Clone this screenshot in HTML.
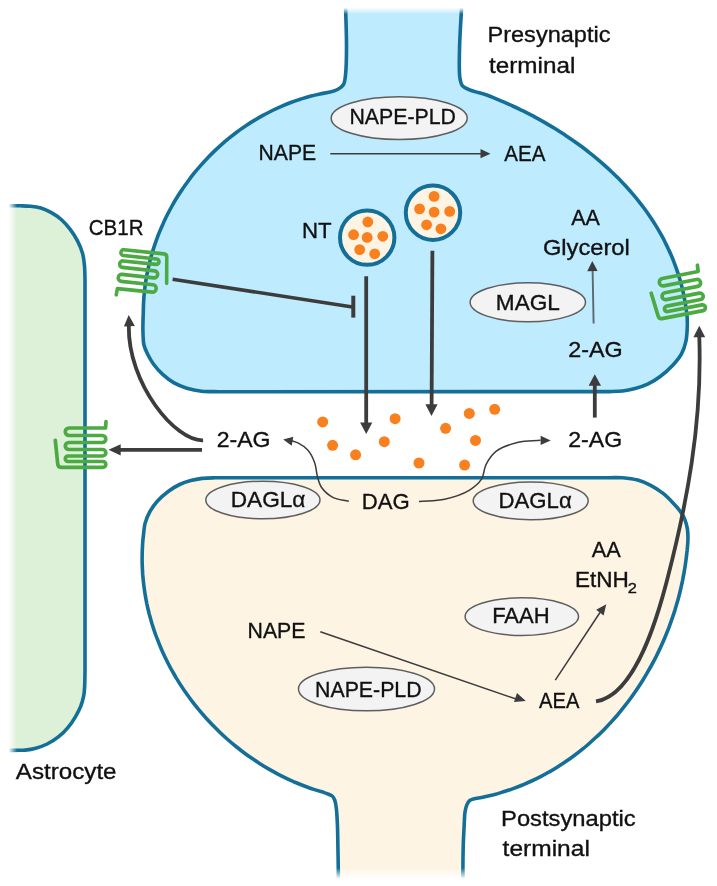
<!DOCTYPE html>
<html><head><meta charset="utf-8"><style>
html,body{margin:0;padding:0;background:#fff;width:717px;height:886px;overflow:hidden}
svg{display:block}
text{font-family:"Liberation Sans", sans-serif}
</style></head><body>
<svg width="717" height="886" viewBox="0 0 717 886">
<defs>
<linearGradient id="fadeTop" x1="0" y1="0" x2="0" y2="1"><stop offset="0" stop-color="#fff" stop-opacity="1"/><stop offset="0.55" stop-color="#fff" stop-opacity="1"/><stop offset="1" stop-color="#fff" stop-opacity="0"/></linearGradient>
<linearGradient id="fadeBot" x1="0" y1="1" x2="0" y2="0"><stop offset="0" stop-color="#fff" stop-opacity="1"/><stop offset="0.4" stop-color="#fff" stop-opacity="1"/><stop offset="1" stop-color="#fff" stop-opacity="0"/></linearGradient>
<linearGradient id="fadeLeft" x1="0" y1="0" x2="1" y2="0"><stop offset="0" stop-color="#fff" stop-opacity="1"/><stop offset="0.5" stop-color="#fff" stop-opacity="1"/><stop offset="0.75" stop-color="#fff" stop-opacity="0.5"/><stop offset="1" stop-color="#fff" stop-opacity="0"/></linearGradient>
</defs>
<rect width="717" height="886" fill="#fff"/>
<path d="M-5 205.8 C3.3 205.8 13.4 205.7 20 205.8 C24.2 205.9 27 205.9 30.5 206.2 C34 206.5 37.5 206.9 40.9 207.9 C44.5 209 48 210.7 51.4 212.6 C55 214.6 58.7 217.2 61.8 220 C64.9 222.8 67.6 226 70.2 229.4 C72.9 232.9 75.4 236.9 77.5 240.9 C79.6 244.9 81.4 249.2 82.6 253.4 C83.7 257.5 84.1 261.7 84.5 266 C84.9 270.5 84.9 274.9 85 280 L85 672 C84.9 677 84.9 681.3 84.7 685.5 C84.5 689.2 84.4 692.5 83.7 695.9 C83 699.4 82 703 80.7 706.4 C79.3 709.9 77.4 713.4 75.4 716.8 C73.3 720.4 70.9 724 68.1 727.3 C65.3 730.7 62.2 733.9 58.7 736.7 C55.2 739.5 51.1 742.1 47.2 744 C43.5 745.8 39.5 747.2 35.7 748.2 C32.2 749.2 28.1 749.8 25.2 750.1 C23.2 750.3 22.4 750.3 20 750.3 C14.8 750.4 3.3 750.3 -5 750.3" fill="#DDF0D8" stroke="#146F98" stroke-width="3.6"/>
<rect x="0" y="195" width="17" height="570" fill="url(#fadeLeft)"/>
<path d="M345.5 4 C345.8 17.7 346.5 32.5 346.5 45 C346.5 55.5 346.4 66.8 345.6 74 C345.1 78.4 345 81.9 343.5 84.5 C342.2 86.7 340.1 88.1 338 89.3 C335.7 90.6 332.8 91.3 330 92 C326.9 92.8 323.3 93.2 320 93.9 C316.6 94.6 313.3 95.4 310.1 96.3 C306.8 97.2 303.6 98.2 300.3 99.2 C297.1 100.2 293.9 101.3 290.8 102.5 C287.7 103.7 284.5 105 281.4 106.3 C278.4 107.6 275.3 109 272.3 110.5 C269.3 112 266.3 113.5 263.4 115.1 C260.4 116.7 257.5 118.4 254.7 120.1 C251.8 121.8 249 123.6 246.2 125.5 C243.4 127.3 240.7 129.3 238 131.2 C235.3 133.2 232.6 135.3 230 137.4 C227.4 139.5 224.8 141.6 222.3 143.8 C219.8 146 217.3 148.3 214.9 150.6 C212.5 152.9 210.1 155.3 207.8 157.7 C205.5 160.1 203.2 162.6 201 165.1 C198.8 167.6 196.6 170.1 194.5 172.7 C192.4 175.3 190.4 178 188.4 180.7 C186.4 183.4 184.4 186.1 182.6 188.9 C180.7 191.6 178.9 194.4 177.1 197.3 C175.3 200.1 173.6 203 172 206 C170.4 208.9 168.8 211.8 167.3 214.8 C165.8 217.8 164.3 220.8 163 223.9 C161.6 226.9 160.3 230 159 233.1 C157.8 236.3 156.6 239.4 155.5 242.6 C154.4 245.7 153.4 248.9 152.4 252.1 C151.4 255.3 150.5 258.6 149.7 261.8 C148.9 265.1 148.2 268.4 147.5 271.7 C146.8 275 146.3 278.3 145.7 281.6 C145.2 285 144.8 288.3 144.4 291.7 C144.1 295 143.8 298.4 143.6 301.8 C143.4 305.2 143.4 308.7 143.3 312 C143.2 315.1 143.1 317.8 143 321 C142.9 324.7 142.8 329 143 333 C143.2 337 143 341.1 143.9 344.8 C144.7 348.3 146.2 351.3 147.8 354.5 C149.4 357.8 151.3 361.1 153.6 364.3 C156.1 367.7 159.1 371.1 162.4 374.1 C165.9 377.3 170 380.5 174.1 382.9 C178.1 385.2 182.3 386.8 186.8 388.2 C191.5 389.6 196.4 390.6 201.5 391.2 C207 391.8 212.7 391.6 218.7 391.7 L610 391.6 C614.7 391.5 618.4 391.5 622.6 391 C626.8 390.5 631 389.6 635.1 388.5 C639.3 387.3 643.6 386 647.7 384.1 C652 382.1 656.2 379.5 660.2 376.5 C664.5 373.3 669.1 369.1 672.8 365.2 C676.2 361.6 679.3 357.9 681.5 353.9 C683.6 350 685 345.6 685.9 341.4 C686.8 337.3 687 332.9 687.2 328.8 C687.4 324.9 687.4 321.2 687.2 317.5 C687 314 686.4 310.7 686 307.3 C685.5 304 684.9 300.7 684.2 297.4 C683.6 294.1 682.9 290.8 682.1 287.6 C681.3 284.4 680.4 281.2 679.5 278.1 C678.5 274.9 677.5 271.8 676.4 268.7 C675.4 265.6 674.2 262.6 673 259.5 C671.8 256.5 670.5 253.5 669.1 250.6 C667.8 247.6 666.4 244.7 664.9 241.8 C663.5 238.9 661.9 236.1 660.3 233.2 C658.7 230.4 657.1 227.6 655.4 224.9 C653.7 222.1 651.9 219.4 650.1 216.7 C648.3 214.1 646.4 211.4 644.5 208.8 C642.6 206.2 640.6 203.6 638.6 201.1 C636.6 198.5 634.5 196 632.4 193.6 C630.3 191.1 628.1 188.6 625.9 186.2 C623.7 183.8 621.4 181.5 619.1 179.1 C616.8 176.8 614.5 174.5 612.1 172.2 C609.7 170 607.3 167.8 604.9 165.6 C602.4 163.4 599.9 161.2 597.4 159.1 C594.9 157 592.3 154.9 589.7 152.9 C587.1 150.8 584.5 148.8 581.9 146.8 C579.2 144.8 576.5 142.9 573.8 141 C571.1 139.1 568.4 137.2 565.6 135.4 C562.8 133.6 560.1 131.8 557.2 130 C554.4 128.3 551.6 126.5 548.7 124.9 C545.9 123.2 543 121.5 540.1 119.9 C537.2 118.3 534.3 116.7 531.4 115.2 C528.5 113.7 525.5 112.2 522.6 110.7 C519.6 109.3 516.7 107.8 513.7 106.5 C510.7 105.1 507.7 103.7 504.7 102.4 C501.8 101.1 498.7 99.8 495.7 98.6 C492.7 97.4 490.2 96.2 486.7 95 C481.8 93.3 473.4 91.5 469 89.6 C466.1 88.4 463.8 87.6 462.3 85.7 C460.7 83.7 460.4 81.4 459.9 77.9 C458.9 71.5 459.3 60.5 459.5 50 C459.7 36.6 461 19.3 461.8 4Z" fill="#BEEBFD" stroke="none"/>
<path d="M345.5 4 C345.8 17.7 346.5 32.5 346.5 45 C346.5 55.5 346.4 66.8 345.6 74 C345.1 78.4 345 81.9 343.5 84.5 C342.2 86.7 340.1 88.1 338 89.3 C335.7 90.6 332.8 91.3 330 92 C326.9 92.8 323.3 93.2 320 93.9 C316.6 94.6 313.3 95.4 310.1 96.3 C306.8 97.2 303.6 98.2 300.3 99.2 C297.1 100.2 293.9 101.3 290.8 102.5 C287.7 103.7 284.5 105 281.4 106.3 C278.4 107.6 275.3 109 272.3 110.5 C269.3 112 266.3 113.5 263.4 115.1 C260.4 116.7 257.5 118.4 254.7 120.1 C251.8 121.8 249 123.6 246.2 125.5 C243.4 127.3 240.7 129.3 238 131.2 C235.3 133.2 232.6 135.3 230 137.4 C227.4 139.5 224.8 141.6 222.3 143.8 C219.8 146 217.3 148.3 214.9 150.6 C212.5 152.9 210.1 155.3 207.8 157.7 C205.5 160.1 203.2 162.6 201 165.1 C198.8 167.6 196.6 170.1 194.5 172.7 C192.4 175.3 190.4 178 188.4 180.7 C186.4 183.4 184.4 186.1 182.6 188.9 C180.7 191.6 178.9 194.4 177.1 197.3 C175.3 200.1 173.6 203 172 206 C170.4 208.9 168.8 211.8 167.3 214.8 C165.8 217.8 164.3 220.8 163 223.9 C161.6 226.9 160.3 230 159 233.1 C157.8 236.3 156.6 239.4 155.5 242.6 C154.4 245.7 153.4 248.9 152.4 252.1 C151.4 255.3 150.5 258.6 149.7 261.8 C148.9 265.1 148.2 268.4 147.5 271.7 C146.8 275 146.3 278.3 145.7 281.6 C145.2 285 144.8 288.3 144.4 291.7 C144.1 295 143.8 298.4 143.6 301.8 C143.4 305.2 143.4 308.7 143.3 312 C143.2 315.1 143.1 317.8 143 321 C142.9 324.7 142.8 329 143 333 C143.2 337 143 341.1 143.9 344.8 C144.7 348.3 146.2 351.3 147.8 354.5 C149.4 357.8 151.3 361.1 153.6 364.3 C156.1 367.7 159.1 371.1 162.4 374.1 C165.9 377.3 170 380.5 174.1 382.9 C178.1 385.2 182.3 386.8 186.8 388.2 C191.5 389.6 196.4 390.6 201.5 391.2 C207 391.8 212.7 391.6 218.7 391.7 L610 391.6 C614.7 391.5 618.4 391.5 622.6 391 C626.8 390.5 631 389.6 635.1 388.5 C639.3 387.3 643.6 386 647.7 384.1 C652 382.1 656.2 379.5 660.2 376.5 C664.5 373.3 669.1 369.1 672.8 365.2 C676.2 361.6 679.3 357.9 681.5 353.9 C683.6 350 685 345.6 685.9 341.4 C686.8 337.3 687 332.9 687.2 328.8 C687.4 324.9 687.4 321.2 687.2 317.5 C687 314 686.4 310.7 686 307.3 C685.5 304 684.9 300.7 684.2 297.4 C683.6 294.1 682.9 290.8 682.1 287.6 C681.3 284.4 680.4 281.2 679.5 278.1 C678.5 274.9 677.5 271.8 676.4 268.7 C675.4 265.6 674.2 262.6 673 259.5 C671.8 256.5 670.5 253.5 669.1 250.6 C667.8 247.6 666.4 244.7 664.9 241.8 C663.5 238.9 661.9 236.1 660.3 233.2 C658.7 230.4 657.1 227.6 655.4 224.9 C653.7 222.1 651.9 219.4 650.1 216.7 C648.3 214.1 646.4 211.4 644.5 208.8 C642.6 206.2 640.6 203.6 638.6 201.1 C636.6 198.5 634.5 196 632.4 193.6 C630.3 191.1 628.1 188.6 625.9 186.2 C623.7 183.8 621.4 181.5 619.1 179.1 C616.8 176.8 614.5 174.5 612.1 172.2 C609.7 170 607.3 167.8 604.9 165.6 C602.4 163.4 599.9 161.2 597.4 159.1 C594.9 157 592.3 154.9 589.7 152.9 C587.1 150.8 584.5 148.8 581.9 146.8 C579.2 144.8 576.5 142.9 573.8 141 C571.1 139.1 568.4 137.2 565.6 135.4 C562.8 133.6 560.1 131.8 557.2 130 C554.4 128.3 551.6 126.5 548.7 124.9 C545.9 123.2 543 121.5 540.1 119.9 C537.2 118.3 534.3 116.7 531.4 115.2 C528.5 113.7 525.5 112.2 522.6 110.7 C519.6 109.3 516.7 107.8 513.7 106.5 C510.7 105.1 507.7 103.7 504.7 102.4 C501.8 101.1 498.7 99.8 495.7 98.6 C492.7 97.4 490.2 96.2 486.7 95 C481.8 93.3 473.4 91.5 469 89.6 C466.1 88.4 463.8 87.6 462.3 85.7 C460.7 83.7 460.4 81.4 459.9 77.9 C458.9 71.5 459.3 60.5 459.5 50 C459.7 36.6 461 19.3 461.8 4" fill="none" stroke="#146F98" stroke-width="3.6"/>
<path d="M338.3 882 C338.3 878.5 338.3 875.7 338.3 871.5 C338.2 865 338.1 855 337.9 847 C337.8 839.4 337.7 831.5 337.4 824.6 C337.1 818.6 336.9 812.6 336.3 808 C335.9 804.8 335.5 802 334.6 799.8 C334 798.2 333.3 797 332.2 796 C331.1 795 329.4 794.6 328 794 C326.7 793.5 325.8 793.1 324.2 792.6 C321.7 791.8 317.7 790.7 314.5 789.6 C311.3 788.6 308.1 787.4 305 786.2 C301.8 785 298.7 783.8 295.6 782.5 C292.5 781.1 289.4 779.8 286.4 778.3 C283.4 776.9 280.3 775.3 277.4 773.8 C274.4 772.2 271.5 770.6 268.5 768.9 C265.6 767.2 262.8 765.5 259.9 763.7 C257.1 761.9 254.3 760 251.5 758.1 C248.8 756.2 246 754.2 243.3 752.2 C240.7 750.2 238 748.1 235.4 746 C232.8 743.9 230.2 741.7 227.7 739.5 C225.2 737.3 222.7 735 220.3 732.7 C217.8 730.4 215.4 728 213.1 725.6 C210.8 723.3 208.5 720.8 206.2 718.3 C204 715.8 201.8 713.3 199.6 710.7 C197.5 708.2 195.4 705.6 193.3 702.9 C191.3 700.3 189.3 697.6 187.3 694.8 C185.4 692.1 183.5 689.4 181.7 686.6 C179.8 683.8 178.1 680.9 176.3 678.1 C174.6 675.2 173 672.3 171.3 669.4 C169.7 666.5 168.2 663.5 166.7 660.5 C165.2 657.6 163.8 654.5 162.4 651.5 C161.1 648.5 159.8 645.4 158.6 642.3 C157.3 639.2 156.1 636.1 155 633 C153.9 629.8 152.9 626.7 151.9 623.5 C151 620.3 150.1 617.1 149.2 613.9 C148.4 610.6 147.6 607.4 146.9 604.1 C146.3 600.9 145.6 597.6 145.1 594.3 C144.5 591 144.1 587.7 143.7 584.4 C143.3 581.1 143 577.7 142.7 574.4 C142.5 571 142.3 567.7 142.2 564.3 C142.1 561 142.1 557.6 142.2 554.2 C142.2 550.8 142.4 547.4 142.6 544 C142.8 540.6 143.2 537.2 143.6 533.8 C144 530.4 144.1 527 145 523.6 C146 519.9 147.5 516 149.5 512.4 C151.6 508.5 154.2 504.7 157.3 501.2 C160.5 497.6 164.6 494.1 168.5 491.2 C172.1 488.6 175.8 486.3 179.6 484.5 C183.2 482.8 187 481.6 190.8 480.6 C194.5 479.6 198.1 478.9 202 478.4 C206.2 477.9 210 477.9 215 477.8 L610 477.7 C614.7 477.7 618.2 477.5 622.6 477.8 C627.4 478.2 633 478.8 637.7 480.1 C642.1 481.3 646.1 483 650.2 485.1 C654.5 487.3 659 490.2 662.8 493.2 C666.5 496.1 669.8 499.5 672.8 502.7 C675.6 505.6 678.3 508.6 680.3 511.4 C682 513.7 683.2 515.5 684.3 518.1 C685.6 521.2 686.8 525.2 687.4 528.9 C688 532.7 688 536.9 687.9 540.7 C687.8 544.2 687.4 547.4 687.1 550.7 C686.7 554 686.4 557.3 685.9 560.6 C685.5 563.9 685 567.2 684.4 570.5 C683.8 573.8 683.2 577.1 682.6 580.4 C681.9 583.7 681.2 587 680.4 590.2 C679.6 593.5 678.8 596.7 677.9 600 C677 603.2 676 606.4 675.1 609.6 C674.1 612.8 673 616 671.9 619.2 C670.8 622.3 669.7 625.5 668.5 628.6 C667.2 631.8 666 634.9 664.7 638 C663.4 641.1 662 644.1 660.6 647.2 C659.2 650.2 657.8 653.3 656.3 656.3 C654.7 659.2 653.2 662.2 651.6 665.2 C650 668.1 648.3 671 646.6 673.9 C644.9 676.8 643.2 679.6 641.4 682.5 C639.6 685.3 637.8 688.1 635.9 690.8 C634 693.6 632.1 696.3 630.1 699 C628.1 701.7 626.1 704.3 624 706.9 C621.9 709.6 619.8 712.1 617.7 714.7 C615.5 717.2 613.3 719.7 611.1 722.1 C608.8 724.6 606.5 727 604.2 729.4 C601.9 731.7 599.5 734.1 597.1 736.3 C594.7 738.6 592.2 740.8 589.7 743 C587.3 745.2 584.7 747.3 582.1 749.4 C579.6 751.5 577 753.5 574.3 755.5 C571.6 757.5 569 759.4 566.2 761.3 C563.5 763.1 560.7 765 557.9 766.7 C555.1 768.5 552.3 770.2 549.4 771.8 C546.5 773.5 543.6 775.1 540.6 776.6 C537.7 778.1 534.7 779.6 531.6 781 C528.6 782.4 525.5 783.7 522.5 785 C519.4 786.3 516.2 787.5 513.1 788.6 C509.9 789.8 506.7 790.8 503.5 791.8 C500.2 792.8 497 793.8 493.7 794.7 C490.4 795.5 487 796.3 483.7 797 C480.3 797.8 476 798.3 473.5 799 C472 799.4 471 799.5 470 800.3 C468.8 801.2 467.8 802.8 467 804.5 C466 806.6 465.5 809.2 465 812 C464.4 815.6 464.5 819.8 464.2 824.6 C463.9 831 463.4 839.4 463.2 847 C463 855 462.9 865 462.9 871.5 C462.9 875.7 462.9 878.5 462.9 882Z" fill="#FEF4E3" stroke="none"/>
<path d="M338.3 882 C338.3 878.5 338.3 875.7 338.3 871.5 C338.2 865 338.1 855 337.9 847 C337.8 839.4 337.7 831.5 337.4 824.6 C337.1 818.6 336.9 812.6 336.3 808 C335.9 804.8 335.5 802 334.6 799.8 C334 798.2 333.3 797 332.2 796 C331.1 795 329.4 794.6 328 794 C326.7 793.5 325.8 793.1 324.2 792.6 C321.7 791.8 317.7 790.7 314.5 789.6 C311.3 788.6 308.1 787.4 305 786.2 C301.8 785 298.7 783.8 295.6 782.5 C292.5 781.1 289.4 779.8 286.4 778.3 C283.4 776.9 280.3 775.3 277.4 773.8 C274.4 772.2 271.5 770.6 268.5 768.9 C265.6 767.2 262.8 765.5 259.9 763.7 C257.1 761.9 254.3 760 251.5 758.1 C248.8 756.2 246 754.2 243.3 752.2 C240.7 750.2 238 748.1 235.4 746 C232.8 743.9 230.2 741.7 227.7 739.5 C225.2 737.3 222.7 735 220.3 732.7 C217.8 730.4 215.4 728 213.1 725.6 C210.8 723.3 208.5 720.8 206.2 718.3 C204 715.8 201.8 713.3 199.6 710.7 C197.5 708.2 195.4 705.6 193.3 702.9 C191.3 700.3 189.3 697.6 187.3 694.8 C185.4 692.1 183.5 689.4 181.7 686.6 C179.8 683.8 178.1 680.9 176.3 678.1 C174.6 675.2 173 672.3 171.3 669.4 C169.7 666.5 168.2 663.5 166.7 660.5 C165.2 657.6 163.8 654.5 162.4 651.5 C161.1 648.5 159.8 645.4 158.6 642.3 C157.3 639.2 156.1 636.1 155 633 C153.9 629.8 152.9 626.7 151.9 623.5 C151 620.3 150.1 617.1 149.2 613.9 C148.4 610.6 147.6 607.4 146.9 604.1 C146.3 600.9 145.6 597.6 145.1 594.3 C144.5 591 144.1 587.7 143.7 584.4 C143.3 581.1 143 577.7 142.7 574.4 C142.5 571 142.3 567.7 142.2 564.3 C142.1 561 142.1 557.6 142.2 554.2 C142.2 550.8 142.4 547.4 142.6 544 C142.8 540.6 143.2 537.2 143.6 533.8 C144 530.4 144.1 527 145 523.6 C146 519.9 147.5 516 149.5 512.4 C151.6 508.5 154.2 504.7 157.3 501.2 C160.5 497.6 164.6 494.1 168.5 491.2 C172.1 488.6 175.8 486.3 179.6 484.5 C183.2 482.8 187 481.6 190.8 480.6 C194.5 479.6 198.1 478.9 202 478.4 C206.2 477.9 210 477.9 215 477.8 L610 477.7 C614.7 477.7 618.2 477.5 622.6 477.8 C627.4 478.2 633 478.8 637.7 480.1 C642.1 481.3 646.1 483 650.2 485.1 C654.5 487.3 659 490.2 662.8 493.2 C666.5 496.1 669.8 499.5 672.8 502.7 C675.6 505.6 678.3 508.6 680.3 511.4 C682 513.7 683.2 515.5 684.3 518.1 C685.6 521.2 686.8 525.2 687.4 528.9 C688 532.7 688 536.9 687.9 540.7 C687.8 544.2 687.4 547.4 687.1 550.7 C686.7 554 686.4 557.3 685.9 560.6 C685.5 563.9 685 567.2 684.4 570.5 C683.8 573.8 683.2 577.1 682.6 580.4 C681.9 583.7 681.2 587 680.4 590.2 C679.6 593.5 678.8 596.7 677.9 600 C677 603.2 676 606.4 675.1 609.6 C674.1 612.8 673 616 671.9 619.2 C670.8 622.3 669.7 625.5 668.5 628.6 C667.2 631.8 666 634.9 664.7 638 C663.4 641.1 662 644.1 660.6 647.2 C659.2 650.2 657.8 653.3 656.3 656.3 C654.7 659.2 653.2 662.2 651.6 665.2 C650 668.1 648.3 671 646.6 673.9 C644.9 676.8 643.2 679.6 641.4 682.5 C639.6 685.3 637.8 688.1 635.9 690.8 C634 693.6 632.1 696.3 630.1 699 C628.1 701.7 626.1 704.3 624 706.9 C621.9 709.6 619.8 712.1 617.7 714.7 C615.5 717.2 613.3 719.7 611.1 722.1 C608.8 724.6 606.5 727 604.2 729.4 C601.9 731.7 599.5 734.1 597.1 736.3 C594.7 738.6 592.2 740.8 589.7 743 C587.3 745.2 584.7 747.3 582.1 749.4 C579.6 751.5 577 753.5 574.3 755.5 C571.6 757.5 569 759.4 566.2 761.3 C563.5 763.1 560.7 765 557.9 766.7 C555.1 768.5 552.3 770.2 549.4 771.8 C546.5 773.5 543.6 775.1 540.6 776.6 C537.7 778.1 534.7 779.6 531.6 781 C528.6 782.4 525.5 783.7 522.5 785 C519.4 786.3 516.2 787.5 513.1 788.6 C509.9 789.8 506.7 790.8 503.5 791.8 C500.2 792.8 497 793.8 493.7 794.7 C490.4 795.5 487 796.3 483.7 797 C480.3 797.8 476 798.3 473.5 799 C472 799.4 471 799.5 470 800.3 C468.8 801.2 467.8 802.8 467 804.5 C466 806.6 465.5 809.2 465 812 C464.4 815.6 464.5 819.8 464.2 824.6 C463.9 831 463.4 839.4 463.2 847 C463 855 462.9 865 462.9 871.5 C462.9 875.7 462.9 878.5 462.9 882" fill="none" stroke="#146F98" stroke-width="3.6"/>
<rect x="300" y="0" width="200" height="14" fill="url(#fadeTop)"/>
<rect x="300" y="868" width="200" height="18" fill="url(#fadeBot)"/>
<ellipse cx="399.2" cy="118.2" rx="68" ry="21.4" fill="#F3F3F3" stroke="#5E5E5E" stroke-width="1.5"/><ellipse cx="527.8" cy="302.3" rx="57.7" ry="19.5" fill="#F3F3F3" stroke="#5E5E5E" stroke-width="1.5"/><ellipse cx="262.9" cy="500" rx="57.1" ry="18.8" fill="#F3F3F3" stroke="#5E5E5E" stroke-width="1.5"/><ellipse cx="530.7" cy="500.9" rx="57.5" ry="18.9" fill="#F3F3F3" stroke="#5E5E5E" stroke-width="1.5"/><ellipse cx="521.8" cy="616.6" rx="56.7" ry="18.8" fill="#F3F3F3" stroke="#5E5E5E" stroke-width="1.5"/><ellipse cx="366.5" cy="689" rx="68" ry="21.8" fill="#F3F3F3" stroke="#5E5E5E" stroke-width="1.5"/>
<circle cx="367.2" cy="237.6" r="27.2" fill="#FEF4E3" stroke="#146F98" stroke-width="4"/><circle cx="367.8" cy="222" r="5.4" fill="#F9801F"/><circle cx="353.6" cy="234.7" r="5.4" fill="#F9801F"/><circle cx="367.2" cy="237.4" r="5.4" fill="#F9801F"/><circle cx="382.8" cy="236.3" r="5.4" fill="#F9801F"/><circle cx="359.7" cy="249.6" r="5.4" fill="#F9801F"/><circle cx="374.7" cy="253.8" r="5.4" fill="#F9801F"/><circle cx="433" cy="212.7" r="27.2" fill="#FEF4E3" stroke="#146F98" stroke-width="4"/><circle cx="434.1" cy="196.4" r="5.4" fill="#F9801F"/><circle cx="419.6" cy="208.9" r="5.4" fill="#F9801F"/><circle cx="434.1" cy="212.1" r="5.4" fill="#F9801F"/><circle cx="449.7" cy="211.4" r="5.4" fill="#F9801F"/><circle cx="426.6" cy="224.8" r="5.4" fill="#F9801F"/><circle cx="440.9" cy="228.8" r="5.4" fill="#F9801F"/><circle cx="322.7" cy="421.9" r="5.5" fill="#F9801F"/><circle cx="332.6" cy="445.3" r="5.5" fill="#F9801F"/><circle cx="355.6" cy="454.8" r="5.5" fill="#F9801F"/><circle cx="395.1" cy="418.7" r="5.5" fill="#F9801F"/><circle cx="384.3" cy="441.7" r="5.5" fill="#F9801F"/><circle cx="419" cy="463" r="5.5" fill="#F9801F"/><circle cx="445.6" cy="428.3" r="5.5" fill="#F9801F"/><circle cx="469.3" cy="413.4" r="5.5" fill="#F9801F"/><circle cx="494.7" cy="409.3" r="5.5" fill="#F9801F"/><circle cx="475.5" cy="440.4" r="5.5" fill="#F9801F"/><circle cx="464.6" cy="465.1" r="5.5" fill="#F9801F"/>
<path d="M20.45 -25.95 L19.95 -19.65 L-16.5 -19.65 A3.75 3.75 0 0 0 -16.5 -12.15 L16.75 -12.15 A3.5 3.5 0 0 1 16.75 -5.15 L-16.75 -5.15 A3.5 3.5 0 0 0 -16.75 1.85 L17 1.85 A3.25 3.25 0 0 1 17 8.35 L-17.5 8.35 A2.75 2.75 0 0 0 -17.5 13.85 L17.35 13.85 A2.9 2.9 0 0 1 17.35 19.65 L-24.5 19.65 Q-27.55 19.65 -27.8 16.5 L-30.25 -7.35" transform="translate(85.55 447.65)" fill="none" stroke="#4BAA42" stroke-width="3.7" stroke-linecap="round" stroke-linejoin="round"/><path d="M20.45 -25.95 L19.95 -19.65 L-16.5 -19.65 A3.75 3.75 0 0 0 -16.5 -12.15 L16.75 -12.15 A3.5 3.5 0 0 1 16.75 -5.15 L-16.75 -5.15 A3.5 3.5 0 0 0 -16.75 1.85 L17 1.85 A3.25 3.25 0 0 1 17 8.35 L-17.5 8.35 A2.75 2.75 0 0 0 -17.5 13.85 L17.35 13.85 A2.9 2.9 0 0 1 17.35 19.65 L-24.5 19.65 Q-27.55 19.65 -27.8 16.5 L-30.5 -9.3" transform="translate(138.5 271) rotate(186) scale(0.96 1)" fill="none" stroke="#4BAA42" stroke-width="3.7" stroke-linecap="round" stroke-linejoin="round"/><path d="M20.45 -25.95 L19.95 -19.65 L-16.5 -19.65 A3.75 3.75 0 0 0 -16.5 -12.15 L16.75 -12.15 A3.5 3.5 0 0 1 16.75 -5.15 L-16.75 -5.15 A3.5 3.5 0 0 0 -16.75 1.85 L17 1.85 A3.25 3.25 0 0 1 17 8.35 L-17.5 8.35 A2.75 2.75 0 0 0 -17.5 13.85 L17.35 13.85 A2.9 2.9 0 0 1 17.35 19.65 L-24.5 19.65 Q-27.55 19.65 -27.8 16.5 L-30.25 -7.35" transform="translate(682.3 294.6) rotate(-11)" fill="none" stroke="#4BAA42" stroke-width="3.7" stroke-linecap="round" stroke-linejoin="round"/>
<path d="M330.3 153.7 L482 153.7" stroke="#3C3C3C" stroke-width="1.5" fill="none" stroke-linecap="butt"/><path d="M490.5 153.7 L480.5 158.3 L480.5 149.1Z" fill="#3C3C3C"/><path d="M366.2 276.2 L366.2 424" stroke="#3C3C3C" stroke-width="3.8" fill="none" stroke-linecap="butt"/><path d="M366.2 434 L360.1 422.5 L372.3 422.5Z" fill="#3C3C3C"/><path d="M432.4 250.7 L431.6 406" stroke="#3C3C3C" stroke-width="3.8" fill="none" stroke-linecap="butt"/><path d="M431.5 416 L425.4 404.2 L437.6 404.2Z" fill="#3C3C3C"/><path d="M172.6 279.2 L352.5 307.1" stroke="#3C3C3C" stroke-width="3.496" fill="none" stroke-linecap="butt"/><path d="M353.3 295.7 L353.3 317.6" stroke="#3C3C3C" stroke-width="4" fill="none" stroke-linecap="butt"/><path d="M594.8 417.6 L594.8 384" stroke="#3C3C3C" stroke-width="3.8" fill="none" stroke-linecap="butt"/><path d="M594.8 374.3 L601 385.8 L588.6 385.8Z" fill="#3C3C3C"/><path d="M593.6 323.5 L592.6 270" stroke="#5A6872" stroke-width="1.9" fill="none" stroke-linecap="butt"/><path d="M592.3 261.1 L597.6 271.1 L587.2 271.3Z" fill="#3C3C3C"/><path d="M202 449.8 L118 449.8" stroke="#3C3C3C" stroke-width="3.8" fill="none" stroke-linecap="butt"/><path d="M108.5 449.8 L120.7 444.2 L120.7 455.4Z" fill="#3C3C3C"/><path d="M203.1 440.3 C175.4 441.5 127.9 383.8 128.8 326" stroke="#3C3C3C" stroke-width="3.8" fill="none" stroke-linecap="butt"/><path d="M128.7 315 L134.9 326 L123.9 326.6Z" fill="#3C3C3C"/><path d="M348.8 501.2 C343.5 499.9 337.4 499.7 332.8 497.3 C328.4 495 324.2 491.2 321.6 487.5 C319.3 484.2 318.5 480.4 317.4 476.4 C316.2 472.1 316.2 466.8 314.6 462.4 C313 458 310.7 453.2 307.7 449.9 C305 446.9 301 444.5 297.9 442.9 C295.5 441.7 293.3 441.3 291 440.5" stroke="#3C3C3C" stroke-width="1.5" fill="none" stroke-linecap="butt"/><path d="M283.2 439.6 L293.3 436.7 L291.7 445.7Z" fill="#3C3C3C"/><path d="M419 501.5 C427.5 500.7 436.3 501 444.6 499.2 C453 497.3 462.7 494.2 469.2 490.3 C474.4 487.2 478.7 483.6 481.5 479.2 C484.2 475 483.7 469.2 486 464.6 C488.4 459.8 491.4 454.9 496 451.3 C501.6 447 510.7 444.1 518.3 442.3 C525.6 440.5 533.2 441 540.6 440.3" stroke="#3C3C3C" stroke-width="1.5" fill="none" stroke-linecap="butt"/><path d="M550.7 440.5 L540.6 445 L540.6 435.8Z" fill="#3C3C3C"/><path d="M320.3 631.8 L516 699" stroke="#3C3C3C" stroke-width="1.5" fill="none" stroke-linecap="butt"/><path d="M525.8 701 L514 701.9 L517 693.1Z" fill="#3C3C3C"/><path d="M555.3 680.2 L600 612.5" stroke="#3C3C3C" stroke-width="1.5" fill="none" stroke-linecap="butt"/><path d="M606.3 604.2 L603.6 615.4 L596.2 609.8Z" fill="#3C3C3C"/><path d="M596.0 701.4 C637.3 695.0 659.8 608.2 667.1 580.0 C686.8 503.9 702.3 424.0 699.3 337.0" stroke="#3C3C3C" stroke-width="3.8" fill="none" stroke-linecap="butt"/><path d="M699.3 325.7 L705.2 337.3 L693.4 337.3Z" fill="#3C3C3C"/>
<g font-family="Liberation Sans, sans-serif" fill="#111" stroke="#111" stroke-width="0.35" style="will-change:transform">
<text x="487.47" y="41.75" font-size="22.9" textLength="123.05" lengthAdjust="spacingAndGlyphs">Presynaptic</text><text x="489.03" y="73.20" font-size="22.9" textLength="86.29" lengthAdjust="spacingAndGlyphs">terminal</text><text x="349.45" y="124.00" font-size="22.9" textLength="106.57" lengthAdjust="spacingAndGlyphs">NAPE-PLD</text><text x="258.57" y="159.50" font-size="22.9" textLength="57.54" lengthAdjust="spacingAndGlyphs">NAPE</text><text x="504.36" y="160.50" font-size="22.9" textLength="41.08" lengthAdjust="spacingAndGlyphs">AEA</text><text x="301.98" y="237.50" font-size="22.9" textLength="29.63" lengthAdjust="spacingAndGlyphs">NT</text><text x="88.76" y="234.60" font-size="22.9" textLength="54.69" lengthAdjust="spacingAndGlyphs">CB1R</text><text x="571.16" y="225.10" font-size="22.9" textLength="28.68" lengthAdjust="spacingAndGlyphs">AA</text><text x="542.91" y="255.20" font-size="22.9" textLength="86.88" lengthAdjust="spacingAndGlyphs">Glycerol</text><text x="495.84" y="309.70" font-size="22.9" textLength="64.11" lengthAdjust="spacingAndGlyphs">MAGL</text><text x="568.23" y="356.90" font-size="22.9" textLength="54.41" lengthAdjust="spacingAndGlyphs">2-AG</text><text x="568.24" y="446.60" font-size="22.9" textLength="53.89" lengthAdjust="spacingAndGlyphs">2-AG</text><text x="216.74" y="447.20" font-size="22.9" textLength="53.78" lengthAdjust="spacingAndGlyphs">2-AG</text><text x="230.74" y="507.00" font-size="22.9" textLength="74.71" lengthAdjust="spacingAndGlyphs">DAGLα</text><text x="361.68" y="508.50" font-size="22.9" textLength="47.97" lengthAdjust="spacingAndGlyphs">DAG</text><text x="498.58" y="507.90" font-size="22.9" textLength="73.16" lengthAdjust="spacingAndGlyphs">DAGLα</text><text x="591.76" y="556.90" font-size="22.9" textLength="28.98" lengthAdjust="spacingAndGlyphs">AA</text><text x="574.95" y="587.40" font-size="22.9" textLength="53.89" lengthAdjust="spacingAndGlyphs">EtNH</text><text x="627.77" y="592.60" font-size="14.5" textLength="9.16" lengthAdjust="spacingAndGlyphs">2</text><text x="492.13" y="623.40" font-size="22.9" textLength="57.53" lengthAdjust="spacingAndGlyphs">FAAH</text><text x="247.55" y="638.00" font-size="22.9" textLength="57.96" lengthAdjust="spacingAndGlyphs">NAPE</text><text x="315.05" y="697.00" font-size="22.9" textLength="106.57" lengthAdjust="spacingAndGlyphs">NAPE-PLD</text><text x="539.06" y="708.20" font-size="22.9" textLength="40.28" lengthAdjust="spacingAndGlyphs">AEA</text><text x="15.85" y="778.70" font-size="22.9" textLength="100.72" lengthAdjust="spacingAndGlyphs">Astrocyte</text><text x="501.05" y="825.60" font-size="22.9" textLength="134.67" lengthAdjust="spacingAndGlyphs">Postsynaptic</text><text x="502.63" y="856.40" font-size="22.9" textLength="87.21" lengthAdjust="spacingAndGlyphs">terminal</text>
</g>
</svg>
</body></html>
